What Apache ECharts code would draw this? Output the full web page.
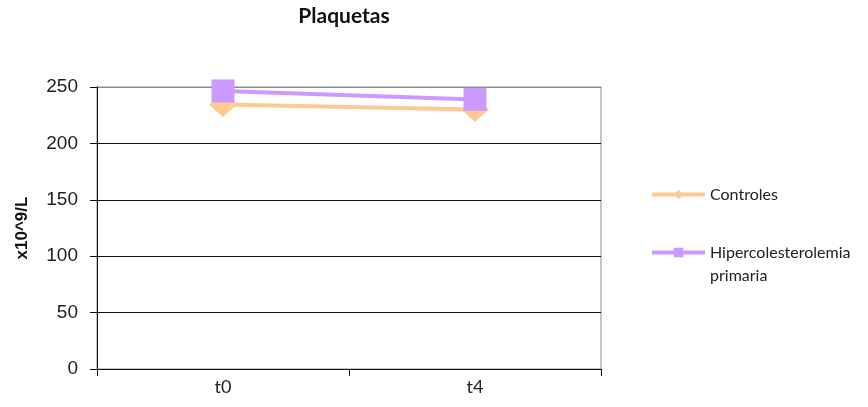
<!DOCTYPE html>
<html>
<head>
<meta charset="utf-8">
<script src="https://cdn.jsdelivr.net/npm/echarts@6/dist/echarts.min.js"></script>
<style>
  html, body { margin: 0; padding: 0; background: #fff; }
  #chart { width: 868px; height: 407px; }
</style>
</head>
<body>
<div id="chart"></div>
<script>
// Platelet counts (x10^9/L) at two time points
const categories = ['t0', 't4'];
const controles = [234.5, 230];
const hipercolesterolemia = [246.5, 239];
const seriesNames = ['Controles', 'Hipercolesterolemia primaria'];

const chart = echarts.init(document.getElementById('chart'), null, { renderer: 'canvas' });

const option = {
  animation: false,
  backgroundColor: '#fff',
  title: {
    text: 'Plaquetas',
    left: 344,
    top: 6,
    padding: 0,
    textAlign: 'center',
    textStyle: { fontFamily: 'Lato', fontWeight: 'bold', fontSize: 21, color: '#111' }
  },
  grid: {
    left: 97, right: 267, top: 87, bottom: 38,
    show: true, borderColor: '#8c8c8c', borderWidth: 1
  },
  legend: {
    orient: 'vertical',
    left: 650,
    top: 183,
    padding: 0,
    itemWidth: 53,
    itemHeight: 12,
    itemGap: 12,
    lineStyle: { width: 4 },
    textStyle: { fontFamily: 'Lato', fontSize: 16, color: '#222', lineHeight: 23 },
    formatter: function (name) {
      return name === seriesNames[1] ? '\nHipercolesterolemia\nprimaria' : name;
    },
    data: seriesNames
  },
  xAxis: {
    type: 'category',
    data: categories,
    boundaryGap: true,
    axisLine: { lineStyle: { color: '#111', width: 1 } },
    axisTick: { show: true, length: 7, lineStyle: { color: '#111' } },
    axisLabel: { fontFamily: 'Lato', fontSize: 18, color: '#222', margin: 9 },
    splitLine: { show: false }
  },
  yAxis: {
    type: 'value',
    min: 0,
    max: 250,
    interval: 50,
    name: 'x10^9/L',
    nameLocation: 'middle',
    nameRotate: 90,
    nameGap: 66,
    nameTextStyle: { fontFamily: 'Liberation Sans', fontWeight: 'bold', fontSize: 17, color: '#111' },
    axisLine: { show: true, lineStyle: { color: '#111', width: 1 } },
    axisTick: { show: true, length: 7, lineStyle: { color: '#111' } },
    axisLabel: { fontFamily: 'Liberation Sans', fontSize: 19, color: '#222', margin: 19 },
    splitLine: {
      show: true,
      lineStyle: { color: ['#111', '#111', '#111', '#111', '#111', '#8c8c8c'], width: 1 }
    }
  },
  series: [
    {
      name: seriesNames[0],
      type: 'line',
      data: controles,
      symbol: 'diamond',
      symbolSize: [28, 25],
      z: 2,
      lineStyle: { color: '#FFC994', width: 4 },
      itemStyle: { color: '#FFC994' }
    },
    {
      name: seriesNames[1],
      type: 'line',
      data: hipercolesterolemia,
      symbol: 'rect',
      symbolSize: 23,
      z: 3,
      lineStyle: { color: '#CC99FF', width: 4 },
      itemStyle: { color: '#CC99FF' }
    }
  ]
};

chart.setOption(option);
</script>
</body>
</html>
